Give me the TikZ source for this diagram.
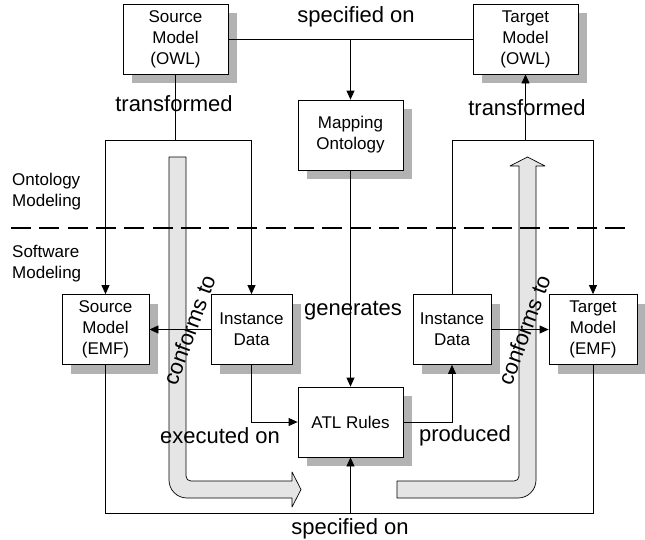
\documentclass[tikz,border=0pt]{standalone}
\usepackage{fontspec}
\setmainfont{Liberation Sans}
\usetikzlibrary{arrows.meta,positioning,shadows}
\tikzset{
  blk/.style ={rectangle,draw,fill=white,inner sep=0pt,line width=0.8pt,
               minimum width=105pt,minimum height=70pt,align=center,
               font=\fontsize{17}{21}\selectfont,
               general shadow={fill=gray!60,shadow xshift=9pt,shadow yshift=-9pt}},
  sig/.style ={-{Triangle[length=9pt,width=8pt]},line width=0.8pt},
  con/.style ={line width=0.8pt},
  lbl/.style ={font=\fontsize{22}{26}\selectfont,inner sep=0pt},
  side/.style={font=\fontsize{17}{21}\selectfont,align=left,anchor=west,inner sep=0pt},
  fat/.style ={draw,fill=gray!20,line width=0.7pt,line join=round},
}

\begin{document}
\begin{tikzpicture}[x=1pt,y=-1pt]
  \useasboundingbox (0,0) rectangle (645,539);
  % conformance arrows (background)
  \draw[fat] (169,157) -- (186,157) -- (186,476)
             .. controls (186,479) and (188,481) .. (191,481) -- (292,481)
             -- (292,472) -- (301,489.5) -- (292,507) -- (292,498) -- (187,498)
             .. controls (177,498) and (169,490) .. (169,480) -- cycle;
  \draw[fat] (397,481) -- (514,481)
             .. controls (517,481) and (519,479) .. (519,476) -- (519,166)
             -- (510,166) -- (527.5,157) -- (545,166) -- (536,166) -- (536,480)
             .. controls (536,490) and (528,498) .. (518,498) -- (397,498) -- cycle;
  % layer separator
  \coordinate (sepL) at (11,228);
  \coordinate (sepR) at (632,228);
  \draw[dash pattern=on 20pt off 8.3pt,line width=1.6pt] (sepL) -- (sepR);
  \node[side] (ontlbl) at (12,192) {Ontology\\Modeling};
  \node[side] (swlbl)  at (12,264) {Software\\Modeling};

  \node[blk]                    (srcowl)  at (175.5,39)  {Source\\Model\\(OWL)};
  \node[blk]                    (tgtowl)  at (525.5,39)  {Target\\Model\\(OWL)};
  \node[blk]                    (mapont)  at (350.5,135) {Mapping\\Ontology};
  \node[blk,minimum width=87pt] (srcemf)  at (105.5,329.5) {Source\\Model\\(EMF)};
  \node[blk,minimum width=81pt] (srcinst) at (251.5,329.5) {Instance\\Data};
  \node[blk]                    (atl)     at (350.5,422) {ATL Rules};
  \node[blk,minimum width=78pt] (tgtinst) at (452,329.5) {Instance\\Data};
  \node[blk,minimum width=88pt] (tgtemf)  at (593,329.5) {Target\\Model\\(EMF)};

  \coordinate (specT)  at (mapont.north |- srcowl.east);
  \coordinate (splitL) at (srcowl.south |- 0,140);
  \coordinate (splitR) at (tgtowl.south |- 0,140);
  \coordinate (specB)  at (atl.south |- 0,513);

  \draw[con](srcowl.east) -- (tgtowl.west);
  \draw[sig](specT) -- (mapont.north);
  \draw[con](srcowl.south) -- (splitL);
  \draw[sig](splitL) -| (srcemf.north);
  \draw[sig](splitL) -| (srcinst.north);
  \draw[sig](splitR) -- (tgtowl.south);
  \draw[con](splitR) -| (tgtinst.north);
  \draw[sig](splitR) -| (tgtemf.north);
  \draw[sig](srcinst.west) -- (srcemf.east);
  \draw[sig](tgtinst.east) -- (tgtemf.west);
  \draw[sig](mapont.south) -- (atl.north);
  \draw[sig](srcinst.south) |- (atl.west);
  \draw[sig](atl.east) -| (tgtinst.south);
  \draw[con](srcemf.south) |- (specB) -| (tgtemf.south);
  \draw[sig](specB) -- (atl.south);

  \node[lbl] (specTlbl) at (356,17)  {specified on};
  \node[lbl] (trfL)     at (174,104) {transformed};
  \node[lbl] (trfR)     at (527,108) {transformed};
  \node[lbl] (genlbl)   at (353,311) {generates};
  \node[lbl] (execlbl)  at (220,436) {executed on};
  \node[lbl] (prodlbl)  at (465,436) {produced};
  \node[lbl] (specBlbl) at (350,529) {specified on};
  \node[lbl,rotate=70] (confL) at (189,330) {conforms to};
  \node[lbl,rotate=70] (confR) at (524,330) {conforms to};
\end{tikzpicture}
\end{document}
